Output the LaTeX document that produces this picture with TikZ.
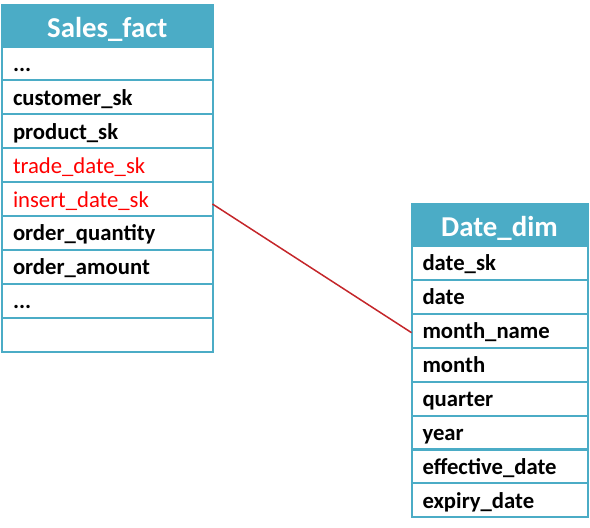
\documentclass[tikz,border=0pt]{standalone}
\usepackage{fontspec}
\setmainfont{Carlito}
\usepackage{tikz}
\definecolor{tblblue}{RGB}{75,172,198}
\definecolor{fkred}{RGB}{255,0,0}
\definecolor{linkred}{RGB}{196,38,42}
\begin{document}
\begin{tikzpicture}[x=1pt,y=-1pt]
\tikzstyle{every node}+=[inner sep=0pt, outer sep=0pt, anchor=north west]
\tikzstyle{tblhead}=[draw=tblblue, fill=tblblue, line width=2pt, text=white, align=center, minimum height=41.5pt, text height=24pt, text depth=1pt, font=\bfseries\fontsize{28.8}{30}\selectfont]
\tikzstyle{tblrow}=[draw=tblblue, line width=2pt, align=left, inner xsep=11pt, minimum height=33.9pt, text height=18pt, text depth=2pt, font=\bfseries\fontsize{22.7}{24}\selectfont]
\tikzstyle{fkey}=[text=fkred, font=\fontsize{22.7}{24}\selectfont]
\useasboundingbox (0,0) rectangle (590,528);
\node [tblhead, text width=210.5pt] (sales) at (2,5) {Sales\_fact};
\node [tblrow, text width=188.5pt] (sdots) at (2,46.5) {...};
\node [tblrow, text width=188.5pt] (custsk) at (2,80.4) {customer\_sk};
\node [tblrow, text width=188.5pt] (prodsk) at (2,114.3) {product\_sk};
\node [tblrow, fkey, text width=188.5pt] (trdsk) at (2,148.2) {trade\_date\_sk};
\node [tblrow, fkey, text width=188.5pt] (inssk) at (2,182.1) {insert\_date\_sk};
\node [tblrow, text width=188.5pt] (ordqty) at (2,216) {order\_quantity};
\node [tblrow, text width=188.5pt] (ordamt) at (2,249.9) {order\_amount};
\node [tblrow, text width=188.5pt] (sdots2) at (2,283.8) {...};
\node [tblrow, text width=188.5pt] (sblank) at (2,317.7) {};
\node [tblhead, text width=176pt] (datedim) at (411.5,204) {Date\_dim};
\node [tblrow, text width=154pt] (datesk) at (411.5,245.8) {date\_sk};
\node [tblrow, text width=154pt] (ddate) at (411.5,279.75) {date};
\node [tblrow, text width=154pt] (mname) at (411.5,313.7) {month\_name};
\node [tblrow, text width=154pt] (dmonth) at (411.5,347.65) {month};
\node [tblrow, text width=154pt] (dquart) at (411.5,381.6) {quarter};
\node [tblrow, text width=154pt] (dyear) at (411.5,415.55) {year};
\node [tblrow, text width=154pt] (effdt) at (411.5,449.5) {effective\_date};
\node [tblrow, text width=154pt] (expdt) at (411.5,483.45) {expiry\_date};
\draw [linkred, line width=1.5pt] ([yshift=-5pt]inssk.east) -- ([yshift=-2pt]mname.west);
\end{tikzpicture}
\end{document}
